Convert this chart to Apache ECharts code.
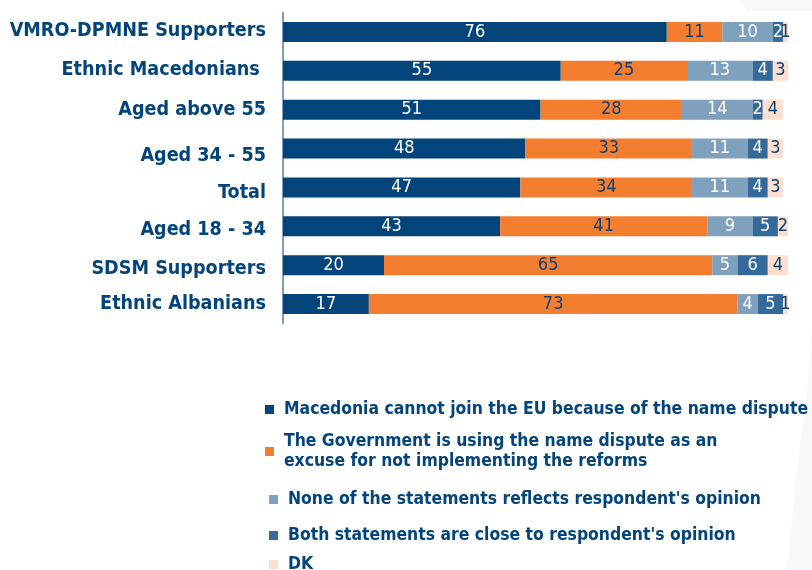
<!DOCTYPE html>
<html>
<head>
<meta charset="utf-8">
<script src="https://cdn.jsdelivr.net/npm/echarts@6/dist/echarts.min.js"></script>
<style>
  html, body { margin: 0; padding: 0; background: #ffffff; }
  #chart { width: 812px; height: 570px; }
</style>
</head>
<body>
<div id="chart"></div>
<script>
// Survey groups, top to bottom
const categories = [
  'VMRO-DPMNE Supporters',
  'Ethnic Macedonians ',
  'Aged above 55',
  'Aged 34 - 55',
  'Total',
  'Aged 18 - 34',
  'SDSM Supporters',
  'Ethnic Albanians'
];

// Shares (%) per answer
const cannotJoin   = [76, 55, 51, 48, 47, 43, 20, 17];
const excuse       = [11, 25, 28, 33, 34, 41, 65, 73];
const noneReflects = [10, 13, 14, 11, 11,  9,  5,  4];
const bothClose    = [ 2,  4,  2,  4,  4,  5,  6,  5];
const dontKnow     = [ 1,  3,  4,  3,  3,  2,  4,  1];

const seriesNames = [
  'Macedonia cannot join the EU because of the name dispute',
  'The Government is using the name dispute as an excuse for not implementing the reforms',
  "None of the statements reflects respondent's opinion",
  "Both statements are close to respondent's opinion",
  'DK'
];

const NAVY = '#03447a';
const FONT = '"DejaVu Sans Condensed", "DejaVu Sans", sans-serif';

const palette = ['#03447a', '#f37e30', '#80a1be', '#346a99', '#fcdfcf'];
const labelColors = ['#ffffff', '#0d4274', '#ffffff', '#ffffff', '#0d4274'];
const values = [cannotJoin, excuse, noneReflects, bothClose, dontKnow];

const series = values.map((vals, i) => ({
  name: seriesNames[i],
  type: 'bar',
  stack: 'all',
  barWidth: 20,
  data: vals,
  itemStyle: { color: palette[i] },
  label: {
    show: true,
    position: 'inside',
    color: labelColors[i],
    fontFamily: FONT,
    fontSize: 18,
    fontWeight: 'normal'
  },
  emphasis: { disabled: true }
}));

// One legend block per answer so each row sits at its own height
const legendRows = [
  { name: seriesNames[0], left: 265, top: 399.5 },
  { name: seriesNames[1], left: 265, top: 431.5, wrap: true },
  { name: seriesNames[2], left: 269, top: 489.5 },
  { name: seriesNames[3], left: 269, top: 525.5 },
  { name: seriesNames[4], left: 269, top: 554.5 }
];

const legends = legendRows.map(r => ({
  data: [r.name],
  left: r.left,
  top: r.top,
  orient: 'vertical',
  itemWidth: 9,
  itemHeight: 9,
  itemGap: 0,
  padding: 0,
  icon: 'rect',
  selectedMode: false,
  formatter: r.wrap
    ? () => 'The Government is using the name dispute as an\nexcuse for not implementing the reforms'
    : undefined,
  textStyle: {
    color: NAVY,
    fontFamily: FONT,
    fontWeight: 'bold',
    fontSize: 17.4,
    lineHeight: 20,
    padding: [0, 0, 0, 5]
  }
}));

// Small vertical nudges of the group names (px, positive = down)
const labelShift = [-1.5, -1, 0, 7, 5, 3.5, 3.5, 0];
const catLabelBase = {
  color: NAVY,
  fontFamily: FONT,
  fontWeight: 'bold',
  fontSize: 19.6
};
const rich = {};
labelShift.forEach((s, i) => {
  rich['r' + i] = Object.assign({}, catLabelBase, {
    padding: s >= 0 ? [2 * s, 0, 0, 0] : [0, 0, -2 * s, 0]
  });
});

const chart = echarts.init(document.getElementById('chart'), null, { renderer: 'canvas' });
chart.setOption({
  animation: false,
  backgroundColor: '#ffffff',
  graphic: [
    {
      type: 'polygon',
      z: -10,
      silent: true,
      shape: { points: [[740, 0], [812, 0], [812, 11], [746, 11]] },
      style: { fill: '#f6f8fa' }
    },
    {
      type: 'polygon',
      z: -10,
      silent: true,
      shape: {
        points: [[812, 330], [808, 380], [802, 430], [796, 480], [791, 530], [787, 570], [812, 570]]
      },
      style: { fill: '#f6f8fa' }
    }
  ],
  grid: { left: 283, top: 12.5, width: 505, height: 311, containLabel: false },
  xAxis: {
    type: 'value',
    min: 0,
    max: 100,
    show: false
  },
  yAxis: {
    type: 'category',
    inverse: true,
    data: categories,
    axisLine: { show: true, lineStyle: { color: '#7f9fbf', width: 2 } },
    axisTick: { show: false },
    splitLine: { show: false },
    axisLabel: Object.assign({}, catLabelBase, {
      margin: 17,
      formatter: (v, idx) => '{r' + idx + '|' + v + '}',
      rich: rich
    })
  },
  legend: legends,
  series: series
});
</script>
</body>
</html>
